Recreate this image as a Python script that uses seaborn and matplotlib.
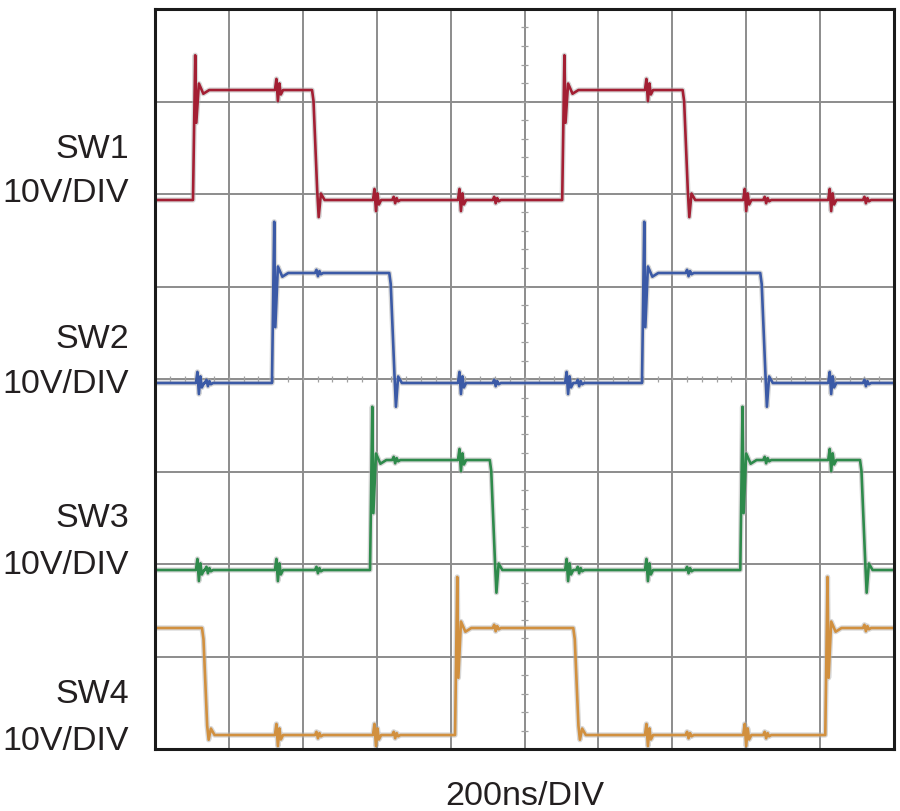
import matplotlib
matplotlib.use("Agg")
import matplotlib.pyplot as plt
import matplotlib.patheffects as pe
import numpy as np
import pandas as pd
import seaborn as sns

# ---------------- data (time in divisions of 200 ns, level in divisions of 10 V) ----
channels = ["SW1", "SW2", "SW3", "SW4"]
colors = ["#a31f33", "#3b5aa6", "#2e8a4b", "#d1903f"]
low_levels = [5.935, 3.957, 1.935, 0.151]
high_levels = [7.124, 5.146, 3.124, 1.308]
spike_levels = [7.50, 5.70, 3.70, 1.86]
ring_levels = [6.77, 4.56, 2.55, 0.77]
dip_levels = [5.75, 3.70, 1.69, 0.10]
rise_times = [[0.514, 5.51], [1.583, 6.59], [2.91, 7.92], [4.06, 9.07]]
fall_times = [[2.125, 7.14], [3.17, 8.19], [4.53, 9.54], [0.636, 5.66]]
start_high = [False, False, False, True]
glitch_big = 0.12
glitch_small = 0.035

label_names = ["SW1", "SW2", "SW3", "SW4"]
label_unit = "10V/DIV"
x_label = "200ns/DIV"
# label baselines in pixels from top (name, unit)
label_baselines = [(158, 202), (348, 393), (527, 574), (703, 750)]

n_xdiv, n_ydiv = 10, 8


def build_trace(i):
    lo, hi = low_levels[i], high_levels[i]
    events = [(t, "rise") for t in rise_times[i]] + [(t, "fall") for t in fall_times[i]]
    own = rise_times[i] + fall_times[i]
    for j in range(len(channels)):
        if j == i:
            continue
        for t in rise_times[j]:
            tg = t + 0.06
            if min(abs(tg - o) for o in own) > 0.3:
                events.append((tg, "gb"))
        for t in fall_times[j]:
            tg = t + 0.06
            if min(abs(tg - o) for o in own) > 0.3:
                events.append((tg, "gs"))
    events.sort()
    level = hi if start_high[i] else lo
    pts = [(0.0, level)]
    for t, kind in events:
        if kind == "rise":
            pts += [(t, lo), (t + 0.03, spike_levels[i]), (t + 0.045, ring_levels[i]),
                    (t + 0.08, hi + 0.07), (t + 0.14, hi - 0.04), (t + 0.22, hi)]
            level = hi
        elif kind == "fall":
            pts += [(t, hi), (t + 0.02, hi - 0.12), (t + 0.07, lo + 0.1),
                    (t + 0.09, dip_levels[i]), (t + 0.12, lo + 0.07), (t + 0.17, lo)]
            level = lo
        else:
            a = glitch_big if kind == "gb" else glitch_small
            pts += [(t - 0.02, level), (t, level + a), (t + 0.02, level - a),
                    (t + 0.04, level + 0.6 * a), (t + 0.06, level - 0.4 * a), (t + 0.09, level)]
    pts.append((10.0, level))
    return pd.DataFrame(pts, columns=["t", "v"])


# ---------------- figure ----------------
sns.set_theme(style="white")
plt.rcParams["font.family"] = ["Liberation Sans", "DejaVu Sans"]

W, H = 900, 811
fig = plt.figure(figsize=(W / 100, H / 100), dpi=100)
ax = fig.add_axes([155 / W, 62 / H, 739 / W, 740 / H])
ax.set_xlim(0, n_xdiv)
ax.set_ylim(0, n_ydiv)
ax.set_xticks(np.arange(0, n_xdiv + 1))
ax.set_yticks(np.arange(0, n_ydiv + 1))
ax.grid(True, color="#8c8c8c", linewidth=1.4)
ax.tick_params(length=0, labelbottom=False, labelleft=False)
for s in ax.spines.values():
    s.set_color("#1a1a1a")
    s.set_linewidth(2.2)
    s.set_visible(True)

# centre graticule minor ticks
mx = np.arange(0, n_xdiv + 0.001, 0.2)
my = np.arange(0, n_ydiv + 0.001, 0.2)
ax.vlines(mx, n_ydiv / 2 - 0.035, n_ydiv / 2 + 0.035, color="#a0a0a0", lw=0.9)
ax.hlines(my, n_xdiv / 2 - 0.045, n_xdiv / 2 + 0.045, color="#a0a0a0", lw=0.9)

for i, ch in enumerate(channels):
    df = build_trace(i)
    sns.lineplot(data=df, x="t", y="v", ax=ax, color=colors[i], linewidth=1.9,
                 estimator=None, sort=False, legend=False)
    ln = ax.lines[-1]
    ln.set_path_effects([pe.Stroke(linewidth=3.8, foreground="#b0b0b0", alpha=0.5), pe.Normal()])

ax.set_xlabel("")
ax.set_ylabel("")

txt_kw = dict(fontsize=24.5, color="#231f20", ha="right", va="baseline")
for name, (b1, b2) in zip(label_names, label_baselines):
    fig.text(129 / W, 1 - b1 / H, name, **txt_kw)
    fig.text(129 / W, 1 - b2 / H, label_unit, **txt_kw)
fig.text(525 / W, 1 - 805 / H, x_label, fontsize=24.5, color="#231f20", ha="center", va="baseline")

fig.savefig("out.png", dpi=100, facecolor="white")
